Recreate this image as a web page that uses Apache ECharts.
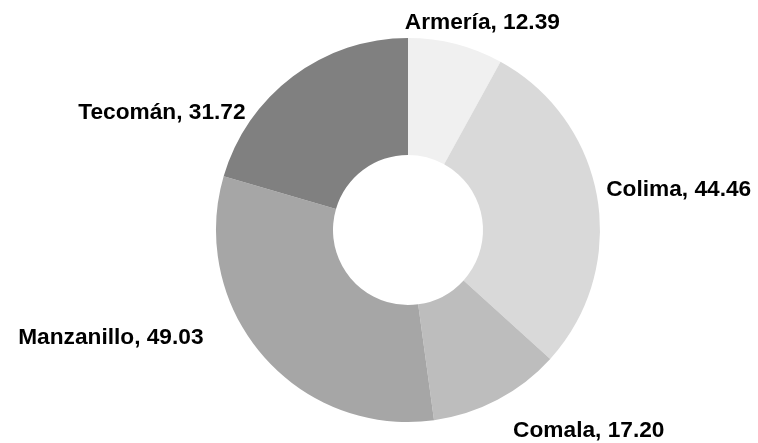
<!DOCTYPE html>
<html><head><meta charset="utf-8">
<script src="https://cdn.jsdelivr.net/npm/echarts@6/dist/echarts.min.js"></script>
<style>html,body{margin:0;padding:0;background:#fff}#c{width:758px;height:443px}</style>
</head><body><div id="c"></div>
<script>
const categories = ["Armería", "Colima", "Comala", "Manzanillo", "Tecomán"];
const values = [12.39, 44.46, 17.20, 49.03, 31.72];
const colors = ["#f0f0f0", "#d9d9d9", "#bdbdbd", "#a6a6a6", "#808080"];
// label nudges (style only)
const labelShift = [[-59, -10], [-8, -7], [5, 20], [-45, -25], [-35, 46]];

const chart = echarts.init(document.getElementById('c'), null, {renderer: 'canvas'});
chart.setOption({
  animation: false,
  backgroundColor: '#ffffff',
  series: [{
    type: 'pie',
    center: [408, 230],
    radius: [75, 192],
    startAngle: 90,
    clockwise: true,
    avoidLabelOverlap: false,
    data: categories.map((c, i) => ({name: c, value: values[i], itemStyle: {color: colors[i]}})),
    label: {
      show: true,
      position: 'outside',
      formatter: p => p.name + ', ' + p.value.toFixed(2),
      fontFamily: 'Liberation Sans, Arial, sans-serif',
      fontWeight: 'bold',
      fontSize: 22.7,
      color: '#000'
    },
    labelLine: {show: false, length: 12, length2: 0},
    labelLayout: p => ({dx: labelShift[p.dataIndex][0], dy: labelShift[p.dataIndex][1]}),
    emphasis: {disabled: true}
  }]
});
</script></body></html>
